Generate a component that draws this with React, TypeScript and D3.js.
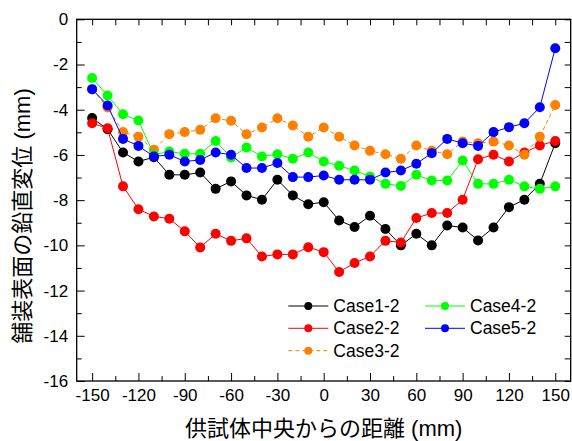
import React, { useEffect, useRef } from "react";
import * as d3 from "d3";

// Distance from specimen centre (mm)
const positions = d3.range(-150, 151, 10);

// Vertical displacement of pavement surface (mm)
const case1 = [-4.37, -4.86, -5.89, -6.29, -6.1, -6.88, -6.88, -6.78, -7.5, -7.17, -7.79, -7.98, -7.1, -7.79, -8.18, -8.09, -8.9, -9.19, -8.69, -9.28, -10.0, -9.49, -10.0, -9.12, -9.21, -9.78, -9.21, -8.31, -7.98, -7.28, -5.48];
const case2 = [-4.6, -4.82, -7.39, -8.4, -8.72, -8.82, -9.38, -10.09, -9.49, -9.8, -9.69, -10.49, -10.4, -10.4, -10.08, -10.3, -11.18, -10.78, -10.49, -9.8, -9.87, -8.79, -8.57, -8.57, -7.98, -6.19, -5.99, -6.29, -5.89, -5.58, -5.38];
const case3 = [-3.1, -3.9, -4.99, -5.19, -5.77, -5.08, -4.99, -4.89, -4.38, -4.49, -5.08, -4.79, -4.38, -4.7, -5.19, -4.79, -5.19, -5.58, -5.82, -5.97, -6.17, -5.58, -5.82, -5.97, -5.41, -5.48, -5.41, -5.58, -5.99, -5.19, -3.79];
const case4 = [-2.6, -3.37, -4.2, -4.48, -5.99, -5.85, -5.95, -5.95, -5.38, -6.11, -5.67, -6.07, -5.97, -6.17, -5.89, -6.29, -6.48, -6.69, -6.95, -7.28, -7.37, -6.88, -7.13, -7.13, -6.25, -7.28, -7.28, -7.1, -7.39, -7.5, -7.39];
const case5 = [-3.09, -3.81, -5.29, -5.6, -6.07, -5.99, -6.29, -6.22, -5.89, -5.99, -6.58, -6.58, -6.36, -6.98, -6.98, -6.91, -7.1, -7.1, -7.1, -6.78, -6.69, -6.39, -5.92, -5.29, -5.48, -5.6, -4.99, -4.77, -4.6, -3.89, -1.28];

const seriesNames = ["Case1-2", "Case2-2", "Case3-2", "Case4-2", "Case5-2"];
const seriesValues = [case1, case2, case3, case4, case5];
const seriesColors = ["#000000", "#ff0000", "#ff8000", "#00ff00", "#0000ff"];
const seriesDashed = [false, false, true, false, false];

const xTicks = [-150, -120, -90, -60, -30, 0, 30, 60, 90, 120, 150];
const xMinorTicks = d3.range(-135, 151, 30);
const yTicks = d3.range(-16, 1, 2);
const yMinorTicks = d3.range(-15, 0, 2);

const xTitle = "供試体中央からの距離 (mm)";
const yTitle = "舗装表面の鉛直変位 (mm)";

const W = 572;
const H = 441;
const left = 76.7;
const right = 570.7;
const top = 19.3;
const bottom = 381;

const tickFont = "'Liberation Sans', Arial, sans-serif";
const titleFont = "'Liberation Sans', 'Noto Sans CJK JP', sans-serif";

// plain hyphen-minus labels
const plain = (d: any) => String(d);

export default function App() {
  const ref = useRef<SVGSVGElement | null>(null);

  useEffect(() => {
    const svg = d3.select(ref.current);
    svg.selectAll("*").remove();

    const x = d3.scaleLinear().domain([-160, 160]).range([left, right]);
    const y = d3.scaleLinear().domain([-16, 0]).range([bottom, top]);

    const styleAxis = (g: any) => {
      g.select(".domain").remove();
      g.selectAll("line").attr("stroke", "#000").attr("stroke-width", 1);
      g.selectAll("text")
        .attr("font-family", tickFont)
        .attr("font-size", 17)
        .attr("fill", "#000");
    };

    // bottom axis
    svg.append("g")
      .attr("transform", `translate(0,${bottom})`)
      .call(d3.axisBottom(x).tickValues(xTicks).tickSize(-8).tickSizeOuter(0).tickPadding(8).tickFormat(plain))
      .call(styleAxis);
    svg.append("g")
      .attr("transform", `translate(0,${bottom})`)
      .call(d3.axisBottom(x).tickValues(xMinorTicks).tickSize(-5).tickSizeOuter(0).tickFormat(() => ""))
      .call(styleAxis);
    // top axis (mirror)
    svg.append("g")
      .attr("transform", `translate(0,${top})`)
      .call(d3.axisTop(x).tickValues([...xTicks, ...xMinorTicks]).tickSize(-6).tickSizeOuter(0).tickFormat(() => ""))
      .call(styleAxis);
    // left axis
    svg.append("g")
      .attr("transform", `translate(${left},0)`)
      .call(d3.axisLeft(y).tickValues(yTicks).tickSize(-8).tickSizeOuter(0).tickPadding(8.5).tickFormat(plain))
      .call(styleAxis);
    svg.append("g")
      .attr("transform", `translate(${left},0)`)
      .call(d3.axisLeft(y).tickValues(yMinorTicks).tickSize(-5).tickSizeOuter(0).tickFormat(() => ""))
      .call(styleAxis);
    // right axis (mirror)
    svg.append("g")
      .attr("transform", `translate(${right},0)`)
      .call(d3.axisRight(y).tickValues([...yTicks, ...yMinorTicks]).tickSize(-6).tickSizeOuter(0).tickFormat(() => ""))
      .call(styleAxis);

    // frame
    svg.append("rect")
      .attr("x", left).attr("y", top)
      .attr("width", right - left).attr("height", bottom - top)
      .attr("fill", "none").attr("stroke", "#000").attr("stroke-width", 1.3);

    // series
    const line = d3.line<number>()
      .x((_, i) => x(positions[i]))
      .y((d) => y(d));

    seriesValues.forEach((vals, k) => {
      const g = svg.append("g");
      g.append("path")
        .attr("d", line(vals))
        .attr("fill", "none")
        .attr("stroke", seriesColors[k])
        .attr("stroke-width", 1)
        .attr("stroke-dasharray", seriesDashed[k] ? "4,3" : null);
      g.selectAll("circle")
        .data(vals)
        .join("circle")
        .attr("cx", (_, i) => x(positions[i]))
        .attr("cy", (d) => y(d))
        .attr("r", 5)
        .attr("fill", seriesColors[k]);
    });

    // legend
    const legendItems = [
      { k: 0, lx: 288.3, ly: 306 },
      { k: 1, lx: 288.3, ly: 328.3 },
      { k: 2, lx: 288.3, ly: 350.7 },
      { k: 3, lx: 425, ly: 306 },
      { k: 4, lx: 425, ly: 328.3 },
    ];
    legendItems.forEach(({ k, lx, ly }) => {
      const g = svg.append("g");
      g.append("line")
        .attr("x1", lx).attr("x2", lx + 40)
        .attr("y1", ly).attr("y2", ly)
        .attr("stroke", seriesColors[k])
        .attr("stroke-width", 1)
        .attr("stroke-dasharray", seriesDashed[k] ? "4,3" : null);
      g.append("circle").attr("cx", lx + 20).attr("cy", ly).attr("r", 4).attr("fill", seriesColors[k]);
      g.append("text")
        .attr("x", lx + 45).attr("y", ly)
        .attr("dominant-baseline", "central")
        .attr("font-family", tickFont)
        .attr("font-size", 17.5)
        .attr("fill", "#000")
        .text(seriesNames[k]);
    });

    // titles
    svg.append("text")
      .attr("x", (left + right) / 2).attr("y", 428)
      .attr("text-anchor", "middle")
      .attr("dominant-baseline", "central")
      .attr("font-family", titleFont)
      .attr("font-size", 22)
      .attr("fill", "#000")
      .text(xTitle);
    svg.append("text")
      .attr("transform", `translate(22,216) rotate(-90)`)
      .attr("text-anchor", "middle")
      .attr("dominant-baseline", "central")
      .attr("font-family", titleFont)
      .attr("font-size", 22)
      .attr("fill", "#000")
      .text(yTitle);
  }, []);

  return (
    <svg
      ref={ref}
      width={W}
      height={H}
      style={{ position: "absolute", left: 0, top: 0, background: "#fff" }}
    />
  );
}
